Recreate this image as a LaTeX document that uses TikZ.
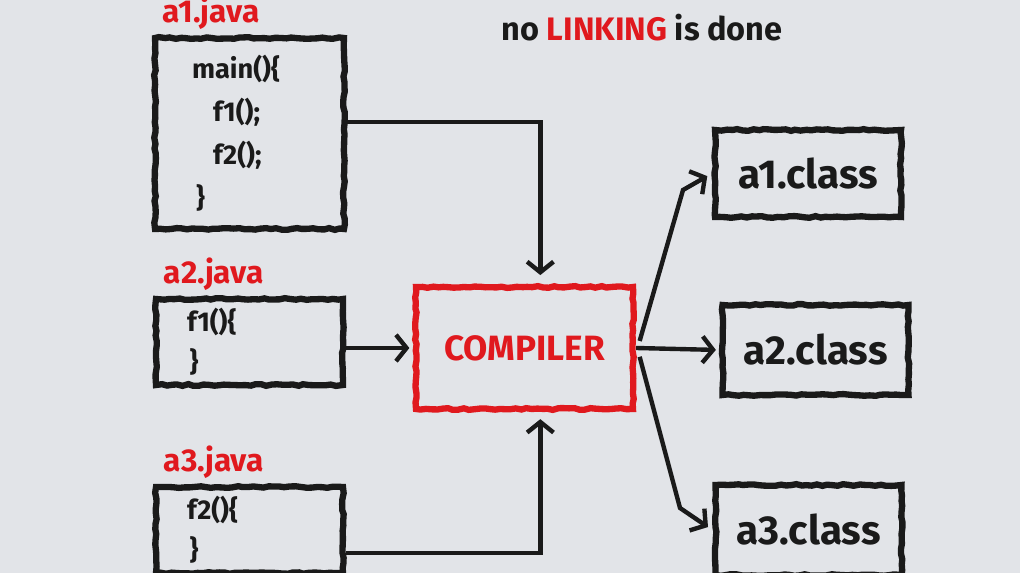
\documentclass[tikz,border=0pt]{standalone}
\usepackage{fontspec}
\setmainfont{Fira Sans}
\usetikzlibrary{arrows.meta,decorations.pathmorphing}
\definecolor{bg-grey}{HTML}{E2E4E8}
\definecolor{ink}{HTML}{1A1A1A}
\definecolor{mark-red}{HTML}{E0191E}

\begin{document}
\begin{tikzpicture}[x=0.02cm, y=-0.02cm,
    sketchbox/.style={draw=ink, line width=3.6pt, inner sep=0pt,
        decorate, decoration={random steps, segment length=3pt, amplitude=0.5pt}},
    codetext/.style={align=left, font=\fontsize{15.5}{24.5}\selectfont\bfseries, text=ink},
    javalabel/.style={inner sep=0pt, anchor=south west, text=mark-red,
        font=\fontsize{18}{21}\selectfont\bfseries},
    classbox/.style={sketchbox, minimum width=3.72cm, minimum height=1.74cm,
        font=\fontsize{23}{26}\selectfont\bfseries, text=ink},
    flow/.style={draw=ink, line width=2.5pt, line join=miter,
        -{Straight Barb[length=6pt, width=15pt, line width=2.5pt]}}]
    \useasboundingbox (0,0) rectangle (1020,573);
    \fill[bg-grey] (0,0) rectangle (1020,573);
    \pgfmathsetseed{7}

    % source files
    \node[sketchbox, minimum width=3.78cm, minimum height=3.82cm,
        codetext, text width=2.3cm] (a1) at (249.5,133.5)
        {main()\{\\ \hspace*{0.42cm}f1();\\ \hspace*{0.42cm}f2();\\ \hspace*{0.08cm}\}};
    \node[sketchbox, minimum width=3.74cm, minimum height=1.72cm,
        codetext, text width=2.5cm, font=\fontsize{15.5}{23}\selectfont\bfseries] (a2) at (249.5,342)
        {f1()\{\\ \hspace*{0.05cm}\}};
    \node[sketchbox, minimum width=3.74cm, minimum height=1.72cm,
        codetext, text width=2.5cm, font=\fontsize{15.5}{23}\selectfont\bfseries] (a3) at (249.5,530)
        {f2()\{\\ \hspace*{0.05cm}\}};
    \node[javalabel] (a1name) at ([xshift=6pt, yshift=3pt]a1.north west) {a1.java};
    \node[javalabel] (a2name) at ([xshift=6pt, yshift=3pt]a2.north west) {a2.java};
    \node[javalabel] (a3name) at ([xshift=6pt, yshift=3pt]a3.north west) {a3.java};

    % compiler
    \node[sketchbox, draw=mark-red, minimum width=4.34cm, minimum height=2.44cm,
        text=mark-red, font=\fontsize{20}{24}\selectfont\bfseries] (comp) at (524.5,348) {COMPILER};

    % class files
    \node[classbox] (c1) at (808,173.5) {a1.class};
    \node[classbox, minimum height=1.8cm] (c2) at (815.5,350) {a2.class};
    \node[classbox, minimum height=1.8cm] (c3) at (808.5,530) {a3.class};

    \node[font=\fontsize{18.5}{22}\selectfont\bfseries, text=ink] (note) at (642,28)
        {no \textcolor{mark-red}{LINKING} is done};

    % arrows
    \coordinate (k1) at (683,190);
    \coordinate (k2) at (680,508);
    \draw[flow, shorten >=5pt] ([yshift=6.5pt]a1.east) -| ([xshift=9pt]comp.north);
    \draw[flow, shorten >=2pt] (a2.east |- comp.west) -- (comp.west);
    \draw[flow, shorten >=4pt] ([yshift=-13pt]a3.east) -| ([xshift=9pt]comp.south);
    \draw[flow, shorten >=2pt] (comp.east) -- (c2.west);
    \draw[flow, shorten >=3pt] ([xshift=2pt, yshift=4pt]comp.east) -- (k1) -- (c1.west);
    \draw[flow, shorten >=3pt] ([xshift=2pt, yshift=-5pt]comp.east) -- (k2) -- (c3.west);
\end{tikzpicture}
\end{document}
